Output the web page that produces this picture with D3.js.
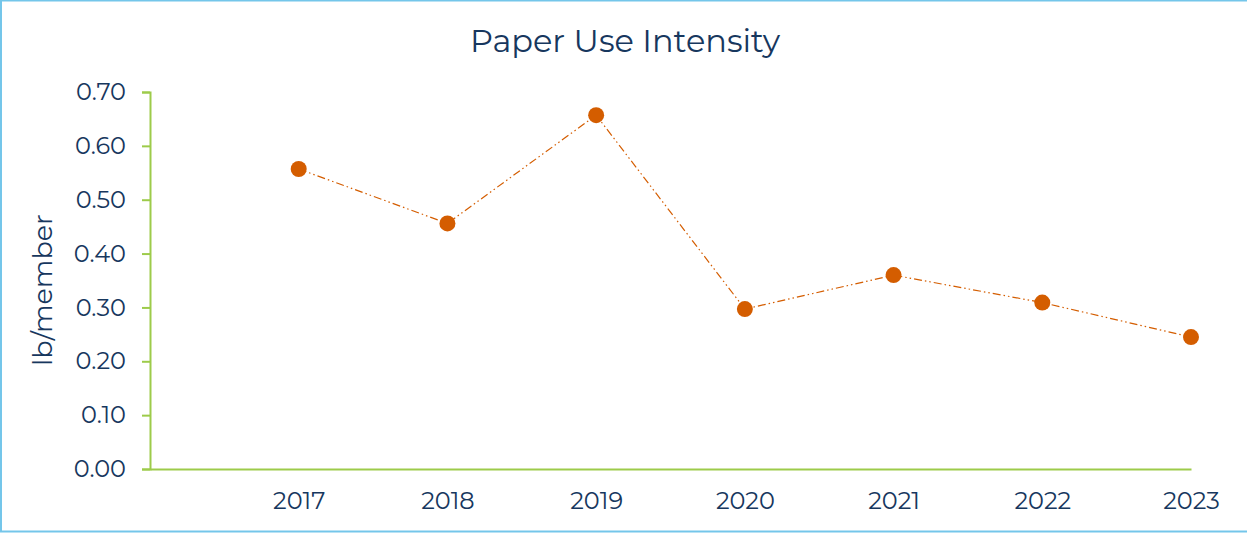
<!DOCTYPE html>
<html>
<head>
<meta charset="utf-8">
<script src="https://cdn.jsdelivr.net/npm/d3@7"></script>
<style>
  html, body { margin: 0; padding: 0; background: #fff; }
  svg { display: block; }
</style>
</head>
<body>
<svg id="chart" width="1247" height="533"></svg>
<script>
const categories = ["", "2017", "2018", "2019", "2020", "2021", "2022", "2023"];
const years = ["2017", "2018", "2019", "2020", "2021", "2022", "2023"];
const values = [0.557, 0.456, 0.657, 0.297, 0.36, 0.309, 0.245];
const yTicks = [0, 0.1, 0.2, 0.3, 0.4, 0.5, 0.6, 0.7];
const title = "Paper Use Intensity";
const yTitle = "lb/member";

const W = 1247, H = 533;
const textColor = "#17375E";
const axisColor = "#9DCB4A";
const markColor = "#D45D00";
const font = "Montserrat, 'Open Sans', sans-serif";

const svg = d3.select("#chart");

svg.append("rect")
  .attr("x", 1).attr("y", 0.5)
  .attr("width", W).attr("height", H - 2)
  .attr("fill", "#fff")
  .attr("stroke", "#74C6EA")
  .attr("stroke-width", 2);

const x = d3.scalePoint().domain(categories).range([150, 1191]);
const y = d3.scaleLinear().domain([0, 0.7]).range([469, 92]);

svg.append("text")
  .attr("x", 625).attr("y", 52)
  .attr("text-anchor", "middle")
  .attr("font-family", font)
  .attr("font-size", 32)
  .attr("fill", textColor)
  .text(title);

svg.append("text")
  .attr("transform", "translate(52,290) rotate(-90)")
  .attr("text-anchor", "middle")
  .attr("font-family", font)
  .attr("font-size", 27)
  .attr("fill", textColor)
  .text(yTitle);

const yAxis = svg.append("g")
  .attr("transform", "translate(150,0)")
  .call(d3.axisLeft(y).tickValues(yTicks).tickFormat(d3.format(".2f")).tickSize(8).tickPadding(16));
yAxis.select(".domain").attr("stroke", axisColor).attr("stroke-width", 2);
yAxis.selectAll(".tick line").attr("stroke", axisColor).attr("stroke-width", 2);
yAxis.selectAll(".tick text")
  .attr("font-family", font).attr("font-size", 24).attr("fill", textColor);

const xAxis = svg.append("g")
  .attr("transform", "translate(0,469)")
  .call(d3.axisBottom(x).tickSize(0).tickPadding(23));
xAxis.select(".domain").attr("stroke", axisColor).attr("stroke-width", 2);
xAxis.selectAll(".tick text")
  .attr("font-family", font).attr("font-size", 24).attr("fill", textColor);

const data = years.map((c, i) => ({ c, v: values[i] }));

svg.append("path")
  .datum(data)
  .attr("fill", "none")
  .attr("stroke", markColor)
  .attr("stroke-width", 1.2)
  .attr("stroke-dasharray", "8,3,1.5,3,1.5,3")
  .attr("d", d3.line().x(d => x(d.c)).y(d => y(d.v)));

svg.selectAll("circle.pt")
  .data(data)
  .join("circle")
  .attr("class", "pt")
  .attr("cx", d => x(d.c))
  .attr("cy", d => y(d.v))
  .attr("r", 8)
  .attr("fill", markColor);
</script>
</body>
</html>
